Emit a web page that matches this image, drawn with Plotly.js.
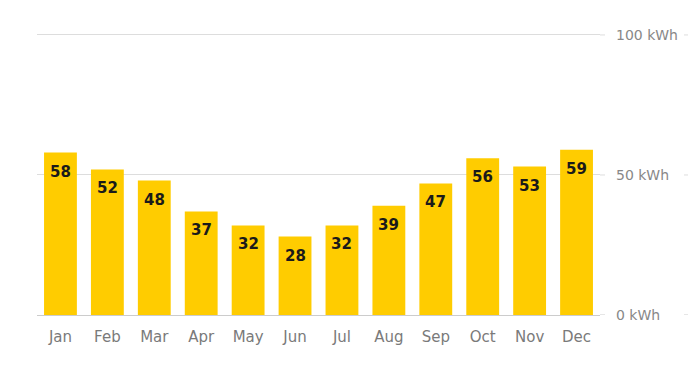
<!DOCTYPE html>
<html><head><meta charset="utf-8">
<script src="https://cdn.plot.ly/plotly-3.0.1.min.js"></script>
<style>html,body{margin:0;padding:0;background:#fff}</style>
</head><body><div id="chart" style="width:693px;height:376px"></div>
<script>
const months = ["Jan","Feb","Mar","Apr","May","Jun","Jul","Aug","Sep","Oct","Nov","Dec"];
const energy = [58,52,48,37,32,28,32,39,47,56,53,59];
const yTicks = [0,50,100];
const yTickLabels = ["0 kWh","50 kWh","100 kWh"];

const trace = {
  type: 'bar', x: months, y: energy,
  marker: {color: '#ffcc00'},
  hoverinfo: 'none'
};
const annotations = months.map((m,i)=>({
  x: m, y: energy[i], xref:'x', yref:'y', text: '<b>'+energy[i]+'</b>',
  showarrow:false, yshift:-19,
  font:{family:'DejaVu Sans', size:15, color:'#1a1a1a'}
}));
// small grid-line stubs on either side of the right-hand tick labels
const plotW = 693-37-93;
const shapes = [];
yTicks.forEach(v=>{
  [[plotW, plotW+5],[plotW+84, plotW+88]].forEach(([a,b])=>{
    shapes.push({type:'line', xref:'paper', yref:'y', x0:a/plotW, x1:b/plotW, y0:v, y1:v,
      line:{color: v===0 ? '#cccccc' : '#dddddd', width:1}});
  });
});
const layout = {
  width:693, height:376,
  margin:{l:37,r:93,t:33,b:61},
  paper_bgcolor:'#fff', plot_bgcolor:'#fff',
  bargap:0.3, showlegend:false,
  font:{family:'DejaVu Sans'},
  xaxis:{tickfont:{size:15,color:'#7a7a7a'}, showgrid:false, zeroline:false,
         showline:false, ticks:'', ticklabelstandoff:11},
  yaxis:{side:'right', range:[0,100.7], tickvals:yTicks, ticktext:yTickLabels,
         gridcolor:'#dddddd', zeroline:true, zerolinecolor:'#cccccc', zerolinewidth:1,
         tickfont:{size:14,color:'#888'}, ticks:'', ticklabelstandoff:15, fixedrange:true},
  shapes: shapes,
  annotations: annotations
};
Plotly.newPlot('chart',[trace],layout,{displayModeBar:false,staticPlot:true});
</script></body></html>
